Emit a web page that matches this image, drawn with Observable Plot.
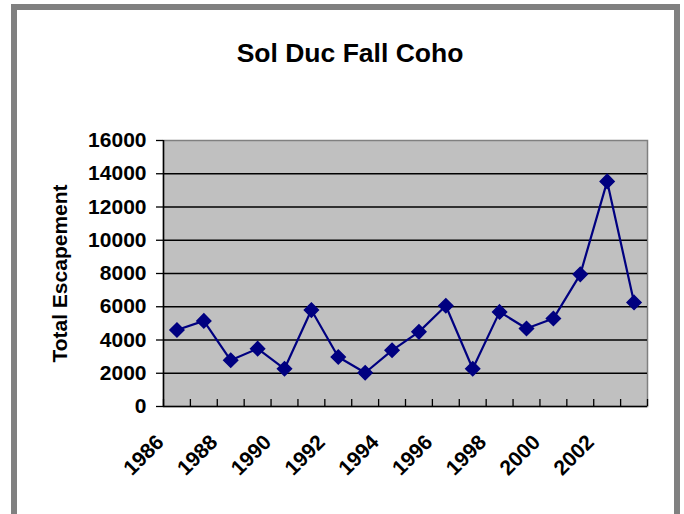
<!DOCTYPE html>
<html><head><meta charset="utf-8">
<script src="https://cdn.jsdelivr.net/npm/d3@7"></script>
<script src="https://cdn.jsdelivr.net/npm/@observablehq/plot@0.6"></script>
<style>
html,body{margin:0;padding:0;background:#fff;overflow:hidden;}
#wrap{position:relative;width:684px;height:514px;overflow:hidden;font-family:"Liberation Sans",Arial,sans-serif;}
#border{position:absolute;left:11px;top:4px;width:657px;height:600px;border:6px solid #808080;}
#title{position:absolute;left:0;top:40px;width:700px;text-align:center;font-weight:bold;font-size:26.5px;line-height:26px;color:#000;}
#chart{position:absolute;left:0;top:0;}
</style></head>
<body>
<div id="wrap">
  <div id="border"></div>
  <div id="chart"></div>
  <div id="title">Sol Duc Fall Coho</div>
</div>
<script>
const years = [1986,1987,1988,1989,1990,1991,1992,1993,1994,1995,1996,1997,1998,1999,2000,2001,2002,2003];
const escapement = [4600,5150,2780,3480,2270,5800,2980,2030,3380,4490,6060,2270,5690,4690,5290,7950,13540,6260];
const yTicks = [0,2000,4000,6000,8000,10000,12000,14000,16000];
const xLabelYears = [1986,1988,1990,1992,1994,1996,1998,2000,2002];
const yLabel = "Total Escapement";

const data = years.map((year, i) => ({year, value: escapement[i]}));
const edges = [...years.map(y => y - 0.5), years[years.length - 1] + 0.5];
const font = "'Liberation Sans', Arial, sans-serif";

const chart = Plot.plot({
  width: 684, height: 514,
  marginTop: 140, marginBottom: 108, marginLeft: 163, marginRight: 37,
  style: {fontFamily: font, fontSize: "21px", fontWeight: "bold", color: "#000", background: "transparent", overflow: "visible"},
  x: {domain: [edges[0], edges[edges.length - 1]], label: null},
  y: {domain: [0, 16000], label: null},
  marks: [
    Plot.frame({fill: "#c0c0c0", stroke: "#808080", strokeWidth: 1.5}),
    Plot.gridY(yTicks.filter(t => t > 0 && t < 16000), {stroke: "#000", strokeOpacity: 1, strokeWidth: 1.3}),
    Plot.ruleY([0], {stroke: "#000", strokeWidth: 1.5}),
    Plot.ruleX([edges[0]], {stroke: "#000", strokeWidth: 1.5}),
    Plot.axisY({ticks: yTicks, tickSize: 7, tickPadding: 10, tickFormat: d => String(d),
      label: yLabel, labelAnchor: "center", labelArrow: "none", labelOffset: 111,
      fontSize: 21, fontWeight: "bold", strokeWidth: 1.3}),
    Plot.axisX({ticks: edges, tickSize: -7, tickFormat: () => "", label: null, strokeWidth: 1.3}),
    Plot.line(data, {x: "year", y: "value", stroke: "#000080", strokeWidth: 2.2}),
    Plot.dot(data, {x: "year", y: "value", symbol: "diamond2", r: 6.3, fill: "#000080", stroke: "#000080"}),
    Plot.text(xLabelYears, {x: d => d, frameAnchor: "bottom", text: d => String(d), rotate: -45,
      textAnchor: "end", lineAnchor: "bottom", dx: -12, dy: 37, fontSize: 21, fontWeight: "bold"})
  ]
});
document.getElementById("chart").appendChild(chart);
</script>
</body></html>
